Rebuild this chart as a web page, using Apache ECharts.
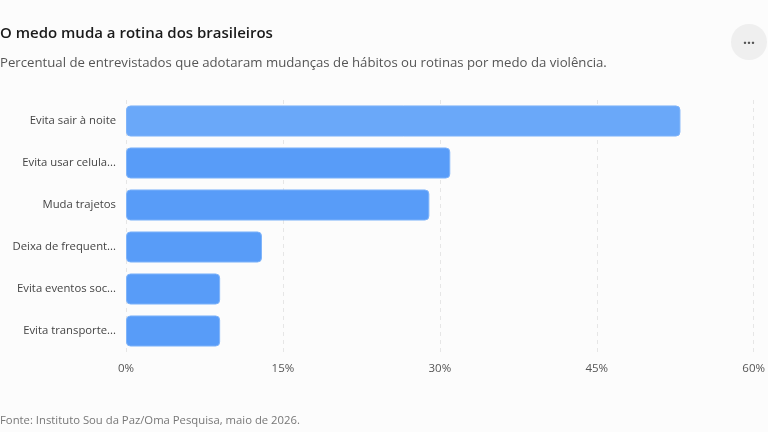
<!DOCTYPE html>
<html>
<head>
<meta charset="utf-8">
<script src="https://cdn.jsdelivr.net/npm/echarts@6/dist/echarts.min.js"></script>
<style>
  html, body { margin: 0; padding: 0; background: #fcfcfc; }
  #chart { width: 768px; height: 432px; }
</style>
</head>
<body>
<div id="chart"></div>
<script>
// categories, top to bottom
const categories = [
  'Evita sair à noite',
  'Evita usar celular na rua',
  'Muda trajetos',
  'Deixa de frequentar lugares',
  'Evita eventos sociais',
  'Evita transporte público'
];
const values = [53, 31, 29, 13, 9, 9];
const xTicks = [0, 15, 30, 45, 60];

const font = '"Open Sans", "Noto Sans", sans-serif';

// long labels are cut to 17 characters, like the original
const shortLabel = (s) => (s.length > 18 ? s.slice(0, 17).trim() + '...' : s);

let chart = echarts.init(document.getElementById('chart'));

let option = {
  backgroundColor: '#fcfcfc',
  textStyle: { fontFamily: font },
  title: {
    text: 'O medo muda a rotina dos brasileiros',
    subtext: 'Percentual de entrevistados que adotaram mudanças de hábitos ou rotinas por medo da violência.',
    left: 0,
    top: 26,
    itemGap: 16,
    padding: [0, 0, 0, 0],
    textStyle: { fontFamily: font, fontSize: 15, fontWeight: 600, color: '#1a1a1a' },
    subtextStyle: { fontFamily: font, fontSize: 13.2, color: '#555' }
  },
  grid: { left: 126, right: 13, top: 100, bottom: 80 },
  xAxis: {
    type: 'value',
    min: xTicks[0],
    max: xTicks[xTicks.length - 1],
    interval: 15,
    axisLine: { show: false },
    axisTick: { show: false },
    axisLabel: { formatter: '{value}%', color: '#555', fontSize: 11.5, margin: 11 },
    splitLine: { show: true, lineStyle: { color: '#e6e6e6', type: [4, 4] } }
  },
  yAxis: {
    type: 'category',
    inverse: true,
    data: categories,
    axisLine: { show: false },
    axisTick: { show: false },
    axisLabel: {
      color: '#444',
      fontSize: 11.3,
      margin: 10,
      padding: [5, 0, 0, 0],
      formatter: shortLabel
    }
  },
  series: [
    {
      type: 'bar',
      data: values.map((v, i) => i === 0
        ? { value: v, itemStyle: { color: '#6aa8f9' } }
        : v),
      barWidth: '74%',
      itemStyle: {
        color: '#589cf8',
        borderColor: '#7fb4fa',
        borderWidth: 1,
        borderRadius: 4
      }
    }
  ],
  graphic: [
    {
      type: 'circle',
      shape: { cx: 749, cy: 42, r: 18 },
      style: { fill: '#efefef' }
    },
    {
      type: 'text',
      x: 749,
      y: 44,
      style: { text: '···', fill: '#555', font: 'bold 14px ' + font, align: 'center', verticalAlign: 'middle' }
    },
    {
      type: 'text',
      left: 0,
      top: 415,
      style: { text: 'Fonte: Instituto Sou da Paz/Oma Pesquisa, maio de 2026.', fill: '#777', font: '11.3px ' + font }
    }
  ]
};

chart.setOption(option);
</script>
</body>
</html>
